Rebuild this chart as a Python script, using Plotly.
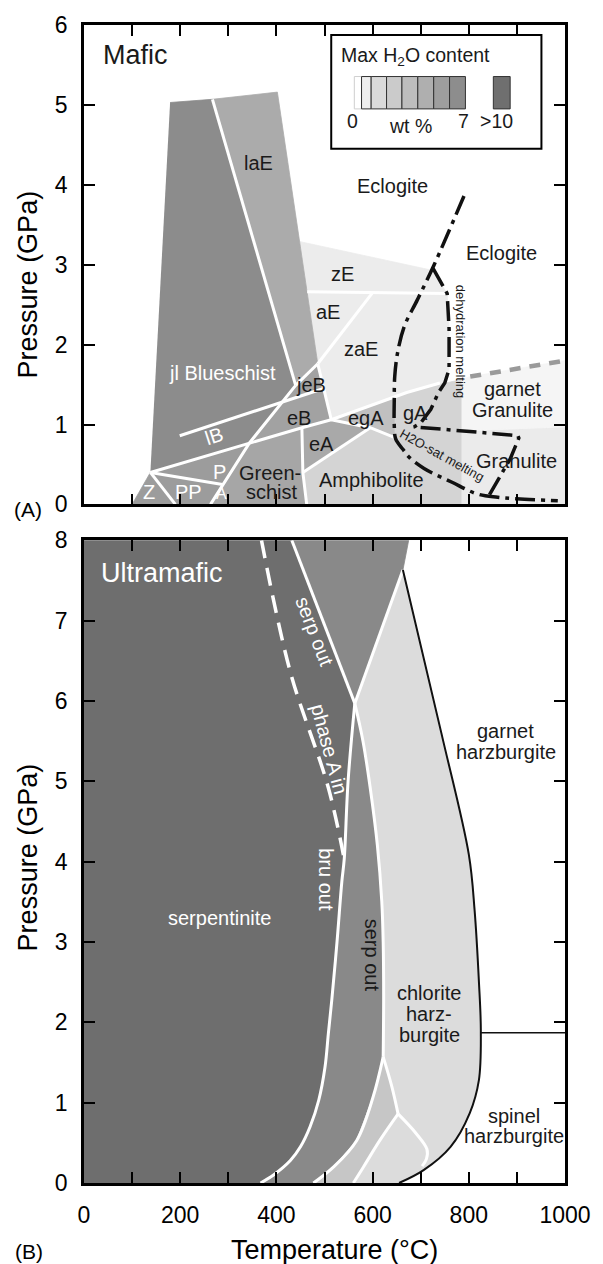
import plotly.graph_objects as go

FONT = "Liberation Sans, Arial, Helvetica, sans-serif"
DARK_TXT = "#1a1a1a"

# ================= Panel A : Mafic  (T in °C, P in GPa) =================
BLUESCHIST_T = [179, 262, 267, 440, 344, 138]
BLUESCHIST_P = [5.03, 5.06, 5.07, 1.49, 0.77, 0.40]
LAE_T = [267, 402, 486, 440]
LAE_P = [5.07, 5.16, 1.76, 1.49]
EB_T = [440, 486, 514, 344]
EB_P = [1.49, 1.76, 1.06, 0.77]
ECLOG_T = [448, 724, 755, 759, 759, 752, 671, 514, 486]
ECLOG_P = [3.29, 2.93, 2.64, 2.20, 1.69, 1.52, 1.40, 1.06, 1.76]
EA_T = [453, 514, 595, 455]
EA_P = [0.96, 1.06, 0.96, 0.40]
EGA_T = [514, 645, 645, 595]
EGA_P = [1.06, 1.34, 0.84, 0.96]
AMPH_T = [463, 455, 595, 645, 645, 671, 752, 784, 784]
AMPH_P = [0.0, 0.40, 0.96, 0.84, 1.34, 1.40, 1.52, 1.56, 0.0]
GREEN_T = [344, 453, 455, 463, 263]
GREEN_P = [0.77, 0.96, 0.40, 0.0, 0.0]
PFIELD_T = [138, 344, 288]
PFIELD_P = [0.40, 0.77, 0.25]
PP_T = [190, 138, 288, 263]
PP_P = [0.0, 0.40, 0.25, 0.0]
Z_T = [100, 138, 190]
Z_P = [0.0, 0.40, 0.0]
GGRAN_T = [784, 1000, 1000, 803, 784]
GGRAN_P = [0.92, 0.97, 1.80, 1.60, 1.56]
GRAN_T = [784, 1000, 1000, 784]
GRAN_P = [0.0, 0.0, 0.97, 0.92]

# white phase boundaries (mafic)
WL_A = [([267, 440], [5.07, 1.49]),
        ([440, 344, 263], [1.49, 0.77, 0.0]),
        ([138, 344, 453, 514], [0.40, 0.77, 0.96, 1.06]),
        ([514, 671, 740], [1.06, 1.40, 1.52]),
        ([199, 498], [0.86, 1.45]),
        ([440, 486], [1.49, 1.76]),
        ([486, 514], [1.76, 1.06]),
        ([486, 600], [1.76, 2.65]),
        ([464, 755], [2.66, 2.64]),
        ([453, 455, 463], [0.96, 0.40, 0.0]),
        ([514, 595, 645], [1.06, 0.96, 0.84]),
        ([595, 455], [0.96, 0.40]),
        ([138, 288], [0.40, 0.25]),
        ([138, 190], [0.40, 0.0])]

# melting curves
H2OSAT_T = [790, 728, 693, 666, 652, 646, 645, 645, 648, 663, 676, 707, 764, 818, 860, 900, 985]
H2OSAT_P = [3.86, 3.00, 2.56, 2.23, 1.90, 1.60, 1.30, 1.00, 0.82, 0.69, 0.59, 0.45, 0.28, 0.13, 0.09, 0.07, 0.045]
DEHYD_T = [726, 755, 759, 759, 750, 737, 721, 700, 686, 778, 846, 902, 904, 886, 841]
DEHYD_P = [2.95, 2.64, 2.20, 1.69, 1.52, 1.40, 1.19, 1.02, 0.97, 0.93, 0.89, 0.86, 0.83, 0.57, 0.10]
GRAYDASH_T = [803, 1000]
GRAYDASH_P = [1.60, 1.80]

# legend (max H2O content)
LEG_BOX_T = [514, 951]
LEG_BOX_P = [4.45, 5.875]
LEG_EDGES_T = [562, 577, 597, 629, 661, 694, 727, 760, 793]
LEG_COLORS = ["#ffffff", "#eeeeee", "#dadada", "#cbcbcb", "#bdbdbd", "#afafaf", "#9e9e9e", "#8d8d8d"]
LEG_BIG_T = [851, 886]
LEG_BIG_COLOR = "#6f6f6f"
LEG_SW_P = [4.95, 5.355]

# ================= Panel B : Ultramafic =================
NODE = (563, 5.97)
SERPOUT_T = [432, 563]
SERPOUT_P = [8.0, 5.97]
PHASEA_T = [369, 429, 508, 541]
PHASEA_P = [8.0, 6.36, 4.92, 4.03]
LINE1_T = [563, 549, 541, 536, 526, 515, 508, 501, 488, 470, 450, 429, 394, 367]
LINE1_P = [5.97, 5.00, 4.03, 3.75, 3.00, 2.27, 1.86, 1.44, 1.03, 0.70, 0.45, 0.28, 0.10, 0.0]
LINE2_T = [563, 580, 595, 610, 619, 622, 623, 622]
LINE2_P = [5.97, 5.50, 4.92, 4.20, 3.51, 3.00, 2.30, 1.57]
LINE2L_T = [622, 601, 567, 519, 477]
LINE2L_P = [1.57, 1.07, 0.53, 0.20, 0.0]
LINE3_T = [622, 640, 653]
LINE3_P = [1.57, 1.20, 0.86]
LINE3A_T = [653, 615, 581, 560]
LINE3A_P = [0.86, 0.53, 0.20, 0.0]
LINE3B_T = [653, 690, 713, 712, 703]
LINE3B_P = [0.86, 0.62, 0.42, 0.30, 0.21]
TIPLINE_T = [563, 663]
TIPLINE_P = [5.97, 7.63]
WEDGE_T = [432, 675, 663, 563]
WEDGE_P = [8.0, 8.0, 7.63, 5.97]
BLACK_T = [663, 743, 800, 812, 821, 825, 821, 802, 762, 706, 655]
BLACK_P = [7.63, 5.60, 4.09, 3.40, 2.51, 1.90, 1.28, 0.87, 0.45, 0.16, 0.0]
HORIZ_T = [825, 1000]
HORIZ_P = [1.87, 1.87]

X_TICKS = list(range(0, 1001, 100))
X_TICKTEXT = [str(v) if v % 200 == 0 else "" for v in X_TICKS]
Y_TICKS_A = list(range(0, 7))
Y_TICKS_B = list(range(0, 9))

fig = go.Figure()


def poly(T, P, color, xa, ya):
    fig.add_trace(go.Scatter(x=T, y=P, mode="lines", fill="toself", fillcolor=color,
                             line=dict(color=color, width=0.8), hoverinfo="skip",
                             showlegend=False, xaxis=xa, yaxis=ya))


def line(T, P, color, width, xa, ya, dash="solid", shape="linear"):
    fig.add_trace(go.Scatter(x=T, y=P, mode="lines",
                             line=dict(color=color, width=width, dash=dash, shape=shape),
                             hoverinfo="skip", showlegend=False, xaxis=xa, yaxis=ya))


# ---- panel A fills
poly(GRAN_T, GRAN_P, "#ebebeb", "x2", "y2")
poly(GGRAN_T, GGRAN_P, "#f5f5f5", "x2", "y2")
poly(ECLOG_T, ECLOG_P, "#ececec", "x2", "y2")
poly(AMPH_T, AMPH_P, "#d4d4d4", "x2", "y2")
poly(EGA_T, EGA_P, "#c0c0c0", "x2", "y2")
poly(EA_T, EA_P, "#a9a9a9", "x2", "y2")
poly(GREEN_T, GREEN_P, "#a6a6a6", "x2", "y2")
poly(EB_T, EB_P, "#a2a2a2", "x2", "y2")
poly(LAE_T, LAE_P, "#ababab", "x2", "y2")
poly(BLUESCHIST_T, BLUESCHIST_P, "#8c8c8c", "x2", "y2")
poly(PFIELD_T, PFIELD_P, "#9c9c9c", "x2", "y2")
poly(PP_T, PP_P, "#9c9c9c", "x2", "y2")
poly(Z_T, Z_P, "#9c9c9c", "x2", "y2")

for T, P in WL_A:
    line(T, P, "white", 3, "x2", "y2")

line(GRAYDASH_T, GRAYDASH_P, "#9a9a9a", 4.5, "x2", "y2", dash="11px,9px")
line(H2OSAT_T, H2OSAT_P, "#111111", 3.5, "x2", "y2", dash="20px,6px,4px,6px", shape="spline")
line(DEHYD_T, DEHYD_P, "#111111", 3.5, "x2", "y2", dash="20px,6px,4px,6px")

# ---- panel B fills
DARK_T = [0, 0] + [SERPOUT_T[0]] + LINE1_T
DARK_P = [0, 8] + [SERPOUT_P[0]] + LINE1_P
poly(DARK_T, DARK_P, "#6e6e6e", "x", "y")
poly(WEDGE_T, WEDGE_P, "#898989", "x", "y")
BAND_T = LINE1_T + LINE2L_T[::-1] + LINE2_T[::-1]
BAND_P = LINE1_P + LINE2L_P[::-1] + LINE2_P[::-1]
poly(BAND_T, BAND_P, "#898989", "x", "y")
LIGHT_T = [NODE[0]] + BLACK_T + [LINE2L_T[-1]] + LINE2L_T[::-1][1:] + LINE2_T[::-1][1:]
LIGHT_P = [NODE[1]] + BLACK_P + [LINE2L_P[-1]] + LINE2L_P[::-1][1:] + LINE2_P[::-1][1:]
poly(LIGHT_T, LIGHT_P, "#dcdcdc", "x", "y")
MID_T = LINE3_T + LINE3A_T[1:] + LINE2L_T[::-1]
MID_P = LINE3_P + LINE3A_P[1:] + LINE2L_P[::-1]
poly(MID_T, MID_P, "#c6c6c6", "x", "y")

line(SERPOUT_T, SERPOUT_P, "white", 3, "x", "y")
line(PHASEA_T, PHASEA_P, "white", 3.5, "x", "y", dash="18px,10px", shape="spline")
line(LINE1_T, LINE1_P, "white", 3, "x", "y", shape="spline")
line(LINE2_T, LINE2_P, "white", 3, "x", "y", shape="spline")
line(LINE2L_T, LINE2L_P, "white", 3, "x", "y", shape="spline")
line(LINE3_T, LINE3_P, "white", 3, "x", "y", shape="spline")
line(LINE3A_T, LINE3A_P, "white", 3, "x", "y", shape="spline")
line(LINE3B_T, LINE3B_P, "white", 3, "x", "y", shape="spline")
line(TIPLINE_T, TIPLINE_P, "white", 3, "x", "y")
line(BLACK_T, BLACK_P, "#111111", 2, "x", "y", shape="spline")
line(HORIZ_T, HORIZ_P, "#111111", 1.6, "x", "y")

# ---- legend shapes (panel A)
shapes = [dict(type="rect", xref="x2", yref="y2", x0=LEG_BOX_T[0], x1=LEG_BOX_T[1],
               y0=LEG_BOX_P[0], y1=LEG_BOX_P[1], fillcolor="white",
               line=dict(color="black", width=2), layer="above")]
for i, c in enumerate(LEG_COLORS):
    shapes.append(dict(type="rect", xref="x2", yref="y2", x0=LEG_EDGES_T[i], x1=LEG_EDGES_T[i + 1],
                       y0=LEG_SW_P[0], y1=LEG_SW_P[1], fillcolor=c,
                       line=dict(color="#cfcfcf" if i == 0 else "#333333", width=1), layer="above"))
shapes.append(dict(type="rect", xref="x2", yref="y2", x0=LEG_BIG_T[0], x1=LEG_BIG_T[1],
                   y0=LEG_SW_P[0], y1=LEG_SW_P[1], fillcolor=LEG_BIG_COLOR,
                   line=dict(color="#333333", width=1), layer="above"))

# ---- labels
ann = []


def lab(text, T, P, axis, color=DARK_TXT, size=20, angle=0, xanchor="center"):
    xr, yr = ("x2", "y2") if axis == "A" else ("x", "y")
    ann.append(dict(text=text, x=T, y=P, xref=xr, yref=yr, showarrow=False,
                    font=dict(family=FONT, size=size, color=color), textangle=angle,
                    xanchor=xanchor, yanchor="middle"))


def paper_lab(text, px, py, size, angle=0):
    ann.append(dict(text=text, x=px, y=py, xref="paper", yref="paper", showarrow=False,
                    font=dict(family=FONT, size=size, color="black"), textangle=angle,
                    xanchor="center", yanchor="middle"))


lab("Mafic", 36, 5.63, "A", size=27, xanchor="left")
lab("Max H<sub>2</sub>O content", 530, 5.60, "A", size=19.5, xanchor="left")
lab("0", 559, 4.80, "A", size=19.5)
lab("wt %", 679, 4.73, "A", size=19.5)
lab("7", 789, 4.80, "A", size=19.5)
lab(">10", 858, 4.80, "A", size=19.5)
lab("laE", 363, 4.27, "A")
lab("Eclogite", 641, 3.98, "A")
lab("Eclogite", 869, 3.15, "A")
lab("zE", 538, 2.89, "A")
lab("aE", 507, 2.41, "A")
lab("zaE", 576, 1.94, "A")
lab("jl Blueschist", 288, 1.65, "A", color="white")
lab("jeB", 471, 1.50, "A")
lab("eB", 446, 1.08, "A")
lab("lB", 270, 0.86, "A", color="white", angle=-18)
lab("eA", 493, 0.75, "A")
lab("egA", 586, 1.08, "A")
lab("gA", 690, 1.15, "A")
lab("garnet", 890, 1.44, "A")
lab("Granulite", 890, 1.18, "A")
lab("Granulite", 900, 0.54, "A")
lab("Amphibolite", 597, 0.30, "A")
lab("Green-", 386, 0.39, "A")
lab("schist", 390, 0.15, "A")
lab("P", 282, 0.40, "A", color="white")
lab("PP", 217, 0.15, "A", color="white")
lab("Z", 135, 0.15, "A", color="white")
lab("A", 286, 0.14, "A", color="white", size=16)
lab("dehydration melting", 783, 2.04, "A", size=13, angle=90)
lab("H2O-sat melting", 745, 0.61, "A", size=13, angle=29)

lab("Ultramafic", 32, 7.59, "B", color="white", size=27, xanchor="left")
lab("serp out", 480, 6.86, "B", color="white", angle=69)
lab("phase A in", 510, 5.40, "B", color="white", angle=75)
lab("bru out", 503, 3.77, "B", color="white", angle=90)
lab("serp out", 599, 2.84, "B", angle=90)
lab("serpentinite", 282, 3.30, "B", color="white")
lab("chlorite", 718, 2.36, "B")
lab("harz-", 718, 2.10, "B")
lab("burgite", 718, 1.84, "B")
lab("garnet", 877, 5.63, "B")
lab("harzburgite", 877, 5.37, "B")
lab("spinel", 893, 0.84, "B")
lab("harzburgite", 893, 0.58, "B")

# axis titles and panel tags (paper coordinates)
paper_lab("Pressure (GPa)", -0.1159, 0.7762, 27, angle=-90)
paper_lab("Pressure (GPa)", -0.1159, 0.2814, 27, angle=-90)
paper_lab("Temperature (°C)", 0.52, -0.0577, 27)
paper_lab("(A)", -0.116, 0.5818, 21)
paper_lab("(B)", -0.114, -0.0594, 21)

axis_common = dict(showline=True, linecolor="black", linewidth=2.5, mirror="ticks",
                   ticks="inside", ticklen=11, tickwidth=1.8, tickcolor="black",
                   showgrid=False, zeroline=False,
                   tickfont=dict(family=FONT, size=23, color="black"))

fig.update_layout(
    width=603, height=1264,
    margin=dict(l=84, r=27, t=21, b=81),
    paper_bgcolor="white", plot_bgcolor="white",
    showlegend=False,
    xaxis=dict(domain=[0, 1], anchor="y", range=[0, 1000], tickvals=X_TICKS, ticktext=X_TICKTEXT,
               ticklabelstandoff=10, **axis_common),
    yaxis=dict(domain=[0, 0.555], anchor="x", range=[0, 8], tickvals=Y_TICKS_B,
               ticklabelstandoff=9, **axis_common),
    xaxis2=dict(domain=[0, 1], anchor="y2", range=[0, 1000], tickvals=X_TICKS,
                showticklabels=False, **axis_common),
    yaxis2=dict(domain=[0.586, 1], anchor="x2", range=[0, 6], tickvals=Y_TICKS_A,
                ticklabelstandoff=9, **axis_common),
    shapes=shapes,
    annotations=ann,
)

fig.write_html("out.html")
